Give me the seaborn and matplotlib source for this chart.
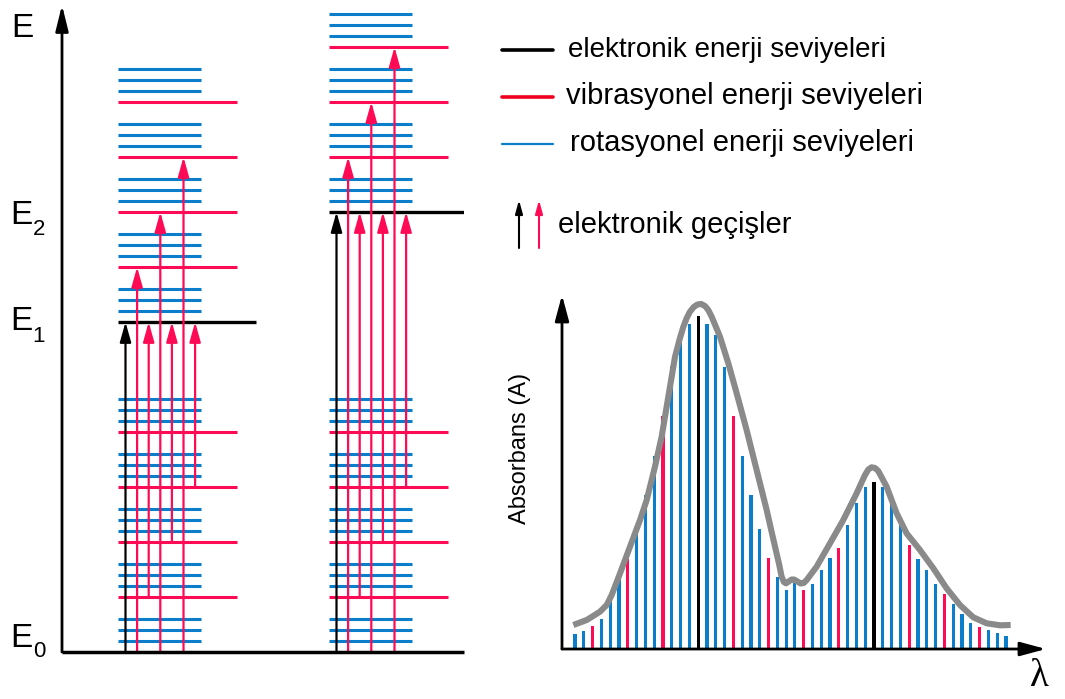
import matplotlib
matplotlib.use("Agg")
import numpy as np
import pandas as pd
import seaborn as sns
import matplotlib.pyplot as plt
from matplotlib.lines import Line2D

sns.set_theme(style="white")
plt.rcParams["font.family"] = ["Liberation Sans", "DejaVu Sans"]
plt.rcParams["text.color"] = "black"

# ---------------- data ----------------
# energy diagram (arbitrary energy units)
ground_vib = [0, 5, 10, 15, 20]          # vibrational levels of ground state E0
rot_offsets = [1, 2, 3]                  # rotational levels above each vibrational level
E1, E2 = 30, 40                          # excited electronic levels
upper_vib_E1 = [0, 5, 10, 15, 20]
upper_vib_E2 = [0, 5, 10, 15]
trans_from = [0, 0, 1, 0, 2, 0, 3]       # ground vib index
trans_to = [0, 1, 0, 2, 0, 3, 0]         # upper vib index
level_names = ["E", "E", "E", "E"]
level_subs = ["", "2", "1", "0"]

# absorption spectrum
bar_heights = [15, 17.7, 23, 29.7, 49.7, 72.3, 89.7, 119.7, 154, 193,
               233, 283, 314, 325, 333.3, 325, 314, 281.7, 233, 193.3,
               154, 120.3, 91.3, 72.3, 59, 65.7, 59, 65, 79, 91.3,
               101.3, 124, 146.3, 162, 167, 162, 146.3, 124, 104, 90,
               79, 65, 54.7, 45, 35, 25.7, 22, 19, 15.7, 13]
bar_kind = list("bbrbbbrbbbrbbbkbbbrbbbrbbbrbbbrbbbkbbbrbbbrbbbrbbb")
env_x = [-0.19, 1.33, 2.84, 3.60, 4.17, 5.12, 6.25, 7.39, 8.15, 9.09, 9.85,
         10.61, 11.37, 11.9, 12.32, 12.7, 13.07, 13.5, 13.91, 14.35, 14.78,
         15.15, 15.54, 16.48, 17.43, 18.38,
         19.51, 20.65, 21.79, 22.74, 23.2, 23.49, 23.75, 23.99, 24.3, 24.63,
         24.9, 25.20, 25.65, 26.0, 26.34,
         27.47, 28.99, 30.50, 32.02, 32.5, 32.97, 33.35, 33.72, 34.1, 34.48,
         35.43, 36.57, 37.70,
         39.22, 40.74, 42.25, 43.77, 45.28, 46.80, 48.31, 49.53]
env_y = [24, 29, 37.3, 44, 54, 75.7, 102.3, 129, 149, 182.3, 212.3,
         252.3, 292.3, 310, 322.3, 331, 337.3, 342, 344.5, 345, 343,
         339, 332.3, 312.3, 285.7, 255.7,
         219, 179, 139, 102.3, 85, 72.3, 67, 65.7, 67.5, 69.5,
         69.5, 68, 65.5, 66, 69,
         82.3, 105.7, 129, 155.7, 165, 174, 179.5, 181.7, 181, 178,
         162.3, 135.7, 115.7,
         99, 80.7, 60.7, 44, 31.7, 25.7, 23.7, 24]
legend_labels = ["elektronik enerji seviyeleri", "vibrasyonel enerji seviyeleri",
                 "rotasyonel enerji seviyeleri", "elektronik geçişler"]
ylabel = "Absorbans (A)"
xlabel = "λ"

# ---------------- style ----------------
BLUE = "#0a7dcb"
RED = "#ff0a55"
LRED = "#f0001c"
GRAY = "#8a8a8a"
W, H = 1065, 699

fig = plt.figure(figsize=(W / 100, H / 100), dpi=100)
fig.patch.set_facecolor("white")

def fx(px):
    return px / W

def fy(py):
    return 1 - py / H

# ---------------- left: energy diagram ----------------
PXU = 11.0  # pixels per energy unit
ax1 = fig.add_axes([fx(62), fy(652), fx(464) - fx(62), 652 / H])
ax1.set_xlim(0, 402)
ax1.set_ylim(0, 652 / PXU)
ax1.axis("off")

LW = 2.2
def draw_column(cx, E, upper_vib):
    for v in ground_vib:
        for r in rot_offsets:
            ax1.hlines(v + r, cx, cx + 83, color=BLUE, lw=LW, zorder=2)
        if v > 0:
            ax1.hlines(v, cx, cx + 119, color=RED, lw=LW, zorder=2)
    for v in upper_vib:
        for r in rot_offsets:
            ax1.hlines(E + v + r, cx, cx + 83, color=BLUE, lw=LW, zorder=2)
        if v == 0:
            ax1.hlines(E, cx, cx + 138, color="black", lw=2.4, zorder=2)
        else:
            ax1.hlines(E + v, cx, cx + 119, color=RED, lw=LW, zorder=2)
    for i, (a, b) in enumerate(zip(trans_from, trans_to)):
        x = cx + 7.5 + 11.6 * i
        c = "black" if i == 0 else RED
        ax1.annotate("", xy=(x, E + upper_vib[b]), xytext=(x, ground_vib[a]),
                     arrowprops=dict(arrowstyle="-|>,head_length=1.0,head_width=0.28",
                                     color=c, lw=1.6, shrinkA=0, shrinkB=0),
                     annotation_clip=False, zorder=4)

draw_column(56, E1, upper_vib_E1)
draw_column(267, E2, upper_vib_E2)

# axes lines
ax1.plot([0, 402], [0, 0], color="black", lw=2.5, solid_capstyle="butt", zorder=5, clip_on=False)
ax1.annotate("", xy=(0, 647 / PXU), xytext=(0, 0),
             arrowprops=dict(arrowstyle="-|>,head_length=1.3,head_width=0.32",
                             color="black", lw=2.0, shrinkA=0, shrinkB=0),
             annotation_clip=False, zorder=5)

# energy labels
lab_pos = [(11, 37), (10, 224), (10, 330), (10, 647)]
sub_pos = [(0, 0), (33, 235), (32, 342), (33, 657)]
for name, sub, (x, y), (sx, sy) in zip(level_names, level_subs, lab_pos, sub_pos):
    fig.text(fx(x), fy(y), name, fontsize=24, va="baseline", ha="left", color="black")
    if sub:
        fig.text(fx(sx), fy(sy), sub, fontsize=16, va="baseline", ha="left", color="black")

# ---------------- legend ----------------
fig.add_artist(Line2D([fx(502), fx(553)], [fy(50), fy(50)], color="black", lw=2.6))
fig.add_artist(Line2D([fx(502), fx(553)], [fy(97), fy(97)], color=LRED, lw=2.6))
fig.add_artist(Line2D([fx(502), fx(553)], [fy(144), fy(144)], color=BLUE, lw=1.6))
fig.text(fx(568), fy(57), legend_labels[0], fontsize=20, va="baseline")
fig.text(fx(566), fy(104), legend_labels[1], fontsize=21, va="baseline")
fig.text(fx(570), fy(151), legend_labels[2], fontsize=21, va="baseline")
fig.text(fx(558), fy(233), legend_labels[3], fontsize=21, va="baseline")
for x, c in [(519, "black"), (539, RED)]:
    fig.add_artist(matplotlib.patches.FancyArrowPatch(
        (fx(x), fy(248)), (fx(x), fy(200)), transform=fig.transFigure,
        arrowstyle="-|>,head_length=0.8,head_width=0.22", mutation_scale=10,
        color=c, lw=1.5, shrinkA=0, shrinkB=0))

# ---------------- right: spectrum ----------------
ax2 = fig.add_axes([fx(562), fy(649), fx(1046) - fx(562), (649 - 290) / H])
df = pd.DataFrame({"idx": np.arange(len(bar_heights)), "A": bar_heights, "kind": bar_kind})
sns.barplot(data=df, x="idx", y="A", hue="kind",
            palette={"b": BLUE, "r": RED, "k": "black"},
            native_scale=True, dodge=False, width=0.36, legend=False,
            errorbar=None, linewidth=0, saturation=1, ax=ax2)
sns.lineplot(x=env_x, y=env_y, sort=False, estimator=None, color=GRAY, lw=4.4,
             ax=ax2, zorder=5)
for ln in ax2.lines:
    ln.set_solid_joinstyle("round")
    ln.set_solid_capstyle("butt")
ax2.set_xlim(-1.48, 53.55)
ax2.set_ylim(0, 359)
ax2.axis("off")
ax2.annotate("", xy=(0, 354 / 359), xytext=(0, 0), xycoords="axes fraction",
             textcoords="axes fraction",
             arrowprops=dict(arrowstyle="-|>,head_length=1.3,head_width=0.35",
                             color="black", lw=2.0, shrinkA=0, shrinkB=0),
             annotation_clip=False)
ax2.annotate("", xy=(1, 0), xytext=(0, 0), xycoords="axes fraction",
             textcoords="axes fraction",
             arrowprops=dict(arrowstyle="-|>,head_length=1.3,head_width=0.35",
                             color="black", lw=2.0, shrinkA=0, shrinkB=0),
             annotation_clip=False)
fig.text(fx(520), fy(448), ylabel, fontsize=17, rotation=90, ha="center", va="center")
fig.text(fx(1039), fy(676), xlabel, fontsize=28, ha="center", va="center",
         family=["Liberation Serif", "DejaVu Serif"])

fig.savefig("out.png", dpi=100, facecolor="white")
